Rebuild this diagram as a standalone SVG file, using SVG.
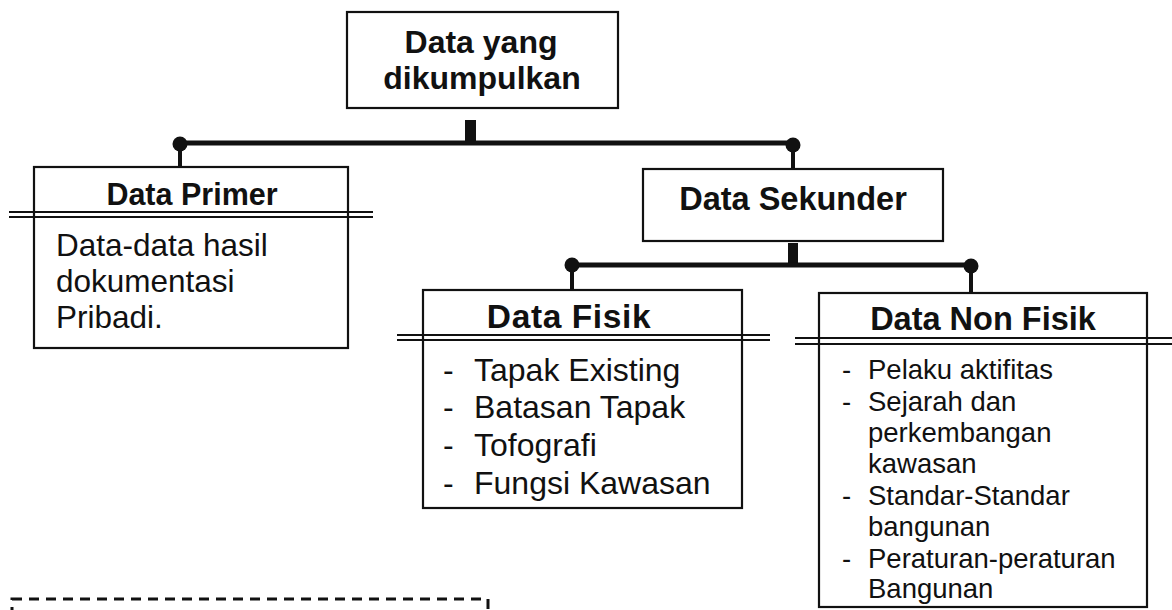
<svg xmlns="http://www.w3.org/2000/svg" width="1172" height="610" viewBox="0 0 1172 610">
<style>
.box{fill:#fff;stroke:#111;stroke-width:2.2}
.dbl{stroke:#111;stroke-width:1.8;fill:none}
.wire{stroke:#111;stroke-width:5;fill:none}
.drop{stroke:#111;stroke-width:4;fill:none}
.stub{fill:#111}
.dot{fill:#111}
.t{font-family:"Liberation Sans",Arial,sans-serif;fill:#111}
.b{font-weight:bold}
.top{font-size:32px}
.ttl{font-size:32.5px}
.it{font-size:32px}
.pb{font-size:31.5px}
.nf{font-size:27.5px}
.dash{fill:none;stroke:#111;stroke-width:3;stroke-dasharray:10 7}
</style>
<rect width="1172" height="610" fill="#fff"/>
<g id="connectors">
  <rect class="stub" x="465" y="120" width="11" height="23"/>
  <line class="wire" x1="180" y1="143" x2="793" y2="143"/>
  <circle class="dot" cx="180" cy="144" r="7.5"/>
  <circle class="dot" cx="793" cy="145" r="7.5"/>
  <line class="drop" x1="180" y1="144" x2="180" y2="167"/>
  <line class="drop" x1="793" y1="145" x2="793" y2="169"/>
  <rect class="stub" x="788" y="243" width="10" height="22"/>
  <line class="wire" x1="572" y1="265" x2="971" y2="265"/>
  <circle class="dot" cx="572" cy="265" r="7.5"/>
  <circle class="dot" cx="971" cy="266" r="7.5"/>
  <line class="drop" x1="572" y1="265" x2="572" y2="290"/>
  <line class="drop" x1="971" y1="266" x2="971" y2="293"/>
</g>
<g id="node-top">
  <rect class="box" x="347" y="12" width="271" height="96"/>
  <text class="t b top" x="481" y="53" text-anchor="middle">Data yang</text>
  <text class="t b top" x="482" y="89" text-anchor="middle">dikumpulkan</text>
</g>
<g id="node-primer">
  <rect class="box" x="34" y="167" width="314" height="181"/>
  <text class="t b" style="font-size:30.5px" x="192" y="205" text-anchor="middle">Data Primer</text>
  <line class="dbl" x1="9" y1="212" x2="373" y2="212"/>
  <line class="dbl" x1="9" y1="217" x2="373" y2="217"/>
  <text class="t pb" x="56" y="256">Data-data hasil</text>
  <text class="t pb" x="56" y="292">dokumentasi</text>
  <text class="t pb" x="56" y="328">Pribadi.</text>
</g>
<g id="node-sekunder">
  <rect class="box" x="643" y="169" width="300" height="72"/>
  <text class="t b ttl" x="793" y="210" text-anchor="middle">Data Sekunder</text>
</g>
<g id="node-fisik">
  <rect class="box" x="423" y="290" width="319" height="218"/>
  <text class="t b" style="font-size:33.5px;letter-spacing:0.6px" x="569" y="328" text-anchor="middle">Data Fisik</text>
  <line class="dbl" x1="397" y1="335" x2="770" y2="335"/>
  <line class="dbl" x1="397" y1="340" x2="770" y2="340"/>
  <text class="t it" x="443" y="381">-</text>
  <text class="t it" x="474" y="381">Tapak Existing</text>
  <text class="t it" x="443" y="418">-</text>
  <text class="t it" x="474" y="418">Batasan Tapak</text>
  <text class="t it" x="443" y="456">-</text>
  <text class="t it" x="474" y="456">Tofografi</text>
  <text class="t it" x="443" y="494">-</text>
  <text class="t it" x="474" y="494">Fungsi Kawasan</text>
</g>
<g id="node-nonfisik">
  <rect class="box" x="819" y="293" width="328" height="314"/>
  <text class="t b ttl" x="983" y="330" text-anchor="middle">Data Non Fisik</text>
  <line class="dbl" x1="795" y1="338" x2="1172" y2="338"/>
  <line class="dbl" x1="795" y1="344" x2="1172" y2="344"/>
  <text class="t nf" x="842" y="379">-</text>
  <text class="t nf" x="868" y="379">Pelaku aktifitas</text>
  <text class="t nf" x="842" y="411">-</text>
  <text class="t nf" x="868" y="411">Sejarah dan</text>
  <text class="t nf" x="868" y="442">perkembangan</text>
  <text class="t nf" x="868" y="473">kawasan</text>
  <text class="t nf" x="842" y="505">-</text>
  <text class="t nf" x="868" y="505">Standar-Standar</text>
  <text class="t nf" x="868" y="536">bangunan</text>
  <text class="t nf" x="842" y="568">-</text>
  <text class="t nf" x="868" y="568">Peraturan-peraturan</text>
  <text class="t nf" x="868" y="598">Bangunan</text>
</g>
<g id="node-dashed">
  <rect class="dash" x="12" y="599" width="476" height="60"/>
</g>
</svg>
